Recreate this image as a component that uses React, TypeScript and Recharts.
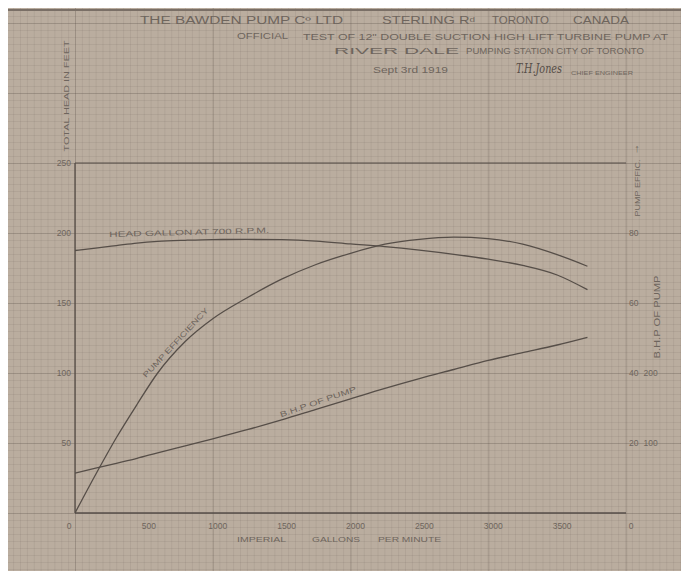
import { ComposedChart, Line, XAxis, YAxis, ReferenceLine, ReferenceDot } from "recharts";

// imperial gallons per minute
const gallons = [0, 150, 300, 450, 600, 800, 1000, 1250, 1500, 1750, 2000, 2250, 2500, 2750, 3000, 3250, 3500, 3720];
// total head in feet
const headFeet = [187.5, 189.2, 191, 192.8, 194, 194.8, 195.3, 195.4, 195.2, 194.2, 192.2, 190.3, 187.8, 184.8, 181.3, 176.8, 170, 159.5];
// pump efficiency %
const efficiencyPct = [0, 11, 21.5, 31, 40, 49, 55.5, 61.5, 66.8, 71, 74.2, 76.8, 78.2, 78.8, 78.4, 76.8, 73.8, 70.5];
// brake horse power
const bhpValues = [57, 64, 71, 78, 86, 96, 106, 119, 133, 148, 163, 178, 192, 205, 218, 229, 240, 251];

const galTicks = [0, 500, 1000, 1500, 2000, 2500, 3000, 3500, 4000];
const galTickLabels: Record<number, string> = { 4000: "0" };
const headTicks = [50, 100, 150, 200, 250];
const effTicks = [20, 40, 60, 80];
const bhpTickLabels: Record<number, string> = { 20: "100", 40: "200" };

const data = gallons.map((g, i) => ({
  gal: g,
  head: headFeet[i],
  eff: efficiencyPct[i],
  bhp: bhpValues[i],
}));

const W = 689;
const H = 579;
const MARGIN = 8;
const RIGHT_AXIS_W = 55;
const rightAxisX = W - MARGIN - RIGHT_AXIS_W;

const ink = "#564e48";
const pencil = "#6e655d";
const font = "'Liberation Sans', Arial, sans-serif";

const XTick = (p: any) => {
  const v = p.payload.value;
  return (
    <text x={p.x + (v === 0 ? -6 : 5)} y={p.y + 14} textAnchor="middle" fontSize={8.5} fill={pencil} fontFamily={font}>
      {galTickLabels[v] ?? v}
    </text>
  );
};

const EffTick = (p: any) => {
  const v = p.payload.value;
  return (
    <text x={rightAxisX + 3} y={p.y + 3} textAnchor="start" fontSize={8.5} fill={pencil} fontFamily={font}>
      {v}
      {bhpTickLabels[v] ? <tspan dx={5}>{bhpTickLabels[v]}</tspan> : null}
    </text>
  );
};

const curveLabel = (text: string, angle: number, len: number, dy: number) => (p: any) => (
  <text
    x={p.cx}
    y={p.cy + dy}
    transform={`rotate(${angle} ${p.cx} ${p.cy})`}
    textAnchor="middle"
    fontSize={7.5}
    fill={pencil}
    fontFamily={font}
    textLength={len}
    lengthAdjust="spacingAndGlyphs"
  >
    {text}
  </text>
);

const Txt = ({ x1, x2, y, size = 9, children }: any) => (
  <text x={x1} y={y} fontSize={size} fill={pencil} fontFamily={font} textLength={x2 - x1} lengthAdjust="spacingAndGlyphs">
    {children}
  </text>
);

const VTxt = ({ cx, cy, len, size = 8, children }: any) => (
  <text
    x={cx}
    y={cy}
    transform={`rotate(-90 ${cx} ${cy})`}
    textAnchor="middle"
    fontSize={size}
    fill={pencil}
    fontFamily={font}
    textLength={len}
    lengthAdjust="spacingAndGlyphs"
  >
    {children}
  </text>
);

export default function App() {
  const minor = "rgba(95,84,74,0.11)";
  const major = "rgba(85,75,66,0.22)";
  const tickStyle = { fill: pencil, fontSize: 8.5, fontFamily: font };
  return (
    <div
      style={{
        position: "relative",
        width: W,
        height: H,
        margin: -MARGIN,
        backgroundColor: "#baad9f",
        backgroundImage: [
          `linear-gradient(to right, ${major} 1px, transparent 1px)`,
          `linear-gradient(to bottom, ${major} 1px, transparent 1px)`,
          `linear-gradient(to right, ${minor} 1px, transparent 1px)`,
          `linear-gradient(to bottom, ${minor} 1px, transparent 1px)`,
        ].join(","),
        backgroundSize: "137.8px 70px, 137.8px 70px, 6.89px 7px, 6.89px 7px",
        backgroundPosition: "75px 163px, 75px 163px, 75px 163px, 75px 163px",
        overflow: "hidden",
      }}
    >
      <div style={{ position: "absolute", left: 0, top: 9, width: W, height: 1.5, background: "#7a6f66" }} />
      <div style={{ position: "absolute", left: 6, top: 9, width: 1.5, height: H, background: "#8a7f75" }} />
      <ComposedChart
        width={W}
        height={H}
        data={data}
        margin={{ top: 163, right: MARGIN, left: MARGIN, bottom: MARGIN }}
        style={{ position: "absolute", left: 0, top: 0 }}
      >
        <XAxis
          type="number"
          dataKey="gal"
          domain={[0, 4000]}
          ticks={galTicks}
          tick={<XTick />}
          tickLine={false}
          tickSize={0}
          height={58}
          stroke={ink}
          axisLine={{ stroke: ink, strokeWidth: 1.3 }}
          allowDataOverflow
        />
        <YAxis
          yAxisId="head"
          domain={[0, 250]}
          ticks={headTicks}
          tick={tickStyle}
          tickLine={false}
          tickSize={0}
          tickMargin={4}
          width={67}
          axisLine={{ stroke: ink, strokeWidth: 1.3 }}
        />
        <YAxis
          yAxisId="eff"
          orientation="right"
          domain={[0, 100]}
          ticks={effTicks}
          tick={<EffTick />}
          tickLine={false}
          tickSize={0}
          width={RIGHT_AXIS_W}
          axisLine={{ stroke: ink, strokeWidth: 1.3 }}
        />
        <YAxis yAxisId="bhp" orientation="right" domain={[0, 500]} hide />
        <ReferenceLine yAxisId="head" y={250} stroke={ink} strokeWidth={1.1} />
        <Line yAxisId="head" type="monotone" dataKey="head" stroke={ink} strokeWidth={1.3} dot={false} activeDot={false} isAnimationActive={false} />
        <Line yAxisId="eff" type="monotone" dataKey="eff" stroke={ink} strokeWidth={1.3} dot={false} activeDot={false} isAnimationActive={false} />
        <Line yAxisId="bhp" type="monotone" dataKey="bhp" stroke={ink} strokeWidth={1.3} dot={false} activeDot={false} isAnimationActive={false} />
        <ReferenceDot yAxisId="head" x={830} y={195.1} r={1} shape={curveLabel("HEAD GALLON  AT 700  R.P.M.", -1.5, 160, -5)} />
        <ReferenceDot yAxisId="eff" x={760} y={47.6} r={1} shape={curveLabel("PUMP EFFICIENCY", -47, 92, -3)} />
        <ReferenceDot yAxisId="bhp" x={1780} y={150} r={1} shape={curveLabel("B.H.P OF PUMP", -19, 80, -4)} />
      </ComposedChart>
      <svg width={W} height={H} style={{ position: "absolute", left: 0, top: 0, pointerEvents: "none" }}>
        <Txt x1={140} x2={343} y={24} size={10}>THE BAWDEN  PUMP  Cº  LTD</Txt>
        <Txt x1={382} x2={475} y={24} size={10}>STERLING Rᵈ</Txt>
        <Txt x1={492} x2={549} y={24} size={10}>TORONTO</Txt>
        <Txt x1={573} x2={629} y={24} size={10}>CANADA</Txt>
        <Txt x1={237} x2={288} y={39} size={9}>OFFICIAL</Txt>
        <Txt x1={303} x2={668} y={40} size={9}>TEST OF 12" DOUBLE SUCTION HIGH LIFT TURBINE PUMP AT</Txt>
        <Txt x1={334} x2={459} y={54} size={9.5}>RIVER DALE</Txt>
        <Txt x1={466} x2={644} y={54} size={9}>PUMPING  STATION  CITY OF TORONTO</Txt>
        <Txt x1={373} x2={448} y={73} size={9}>Sept 3rd 1919</Txt>
        <text x={516} y={73} fontSize={12} fontStyle="italic" fill={ink} fontFamily="'DejaVu Serif', serif" textLength={46} lengthAdjust="spacingAndGlyphs">
          T.H.Jones
        </text>
        <Txt x1={571} x2={633} y={75} size={6}>CHIEF ENGINEER</Txt>
        <VTxt cx={69} cy={96} len={111}>TOTAL HEAD IN FEET</VTxt>
        <VTxt cx={640} cy={188} len={57}>PUMP EFFIC.</VTxt>
        <text x={637} y={152} fontSize={11} fill={pencil} textAnchor="middle" fontFamily={font}>↑</text>
        <VTxt cx={660} cy={317} len={83} size={9}>B.H.P OF PUMP</VTxt>
        <Txt x1={237} x2={286} y={542} size={8}>IMPERIAL</Txt>
        <Txt x1={312} x2={360} y={542} size={8}>GALLONS</Txt>
        <Txt x1={378} x2={441} y={542} size={8}>PER MINUTE</Txt>
      </svg>
    </div>
  );
}
